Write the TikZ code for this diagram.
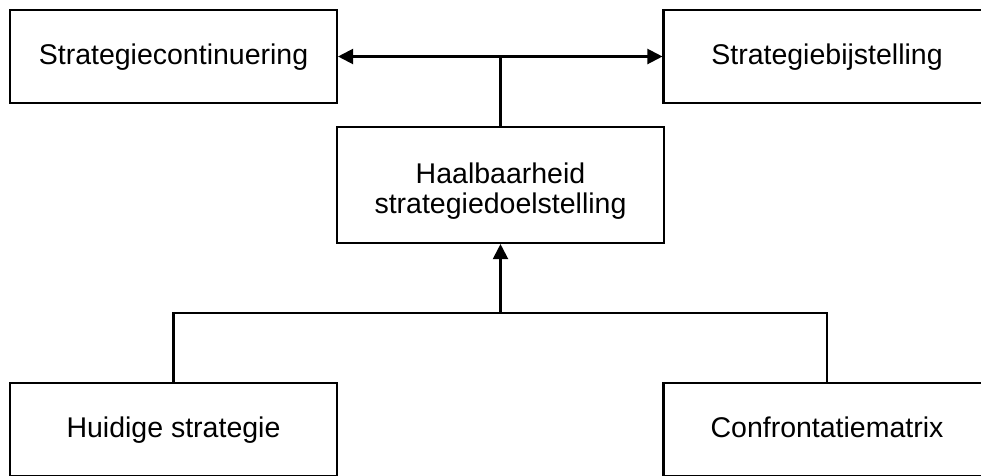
\documentclass[tikz,border=0pt]{standalone}
\usepackage{fontspec}
\setmainfont{Liberation Sans}
\usetikzlibrary{arrows.meta}
\begin{document}
\begin{tikzpicture}[x=1pt,y=-1pt,
  box/.style={draw=black, line width=2.1pt, fill=white, inner sep=0pt,
    minimum width=327pt, font=\fontsize{28.5}{32}\selectfont},
  onebox/.style={box, minimum height=93pt, text height=20.5pt, text depth=4pt},
  link/.style={line width=2.1pt},
  tip/.style={link, -{Triangle[length=15pt,width=15pt]}}]
  \useasboundingbox (0,0) rectangle (981,475);

  % top row: outcomes
  \node[onebox] (cont) at (173.5,56.5) {Strategiecontinuering};
  \node[onebox] (bijst) at (827,56.5) {Strategiebijstelling};

  % central assessment (two lines, last baseline fixed by height/depth)
  \node[box, minimum height=116pt, text height=62pt, text depth=6pt] (haal) at (500.5,185)
    {\begin{tabular}[b]{@{}c@{}}Haalbaarheid\\[-2pt]strategiedoelstelling\end{tabular}};

  % bottom row: inputs
  \node[onebox] (huid) at (173.5,429.5) {Huidige strategie};
  \node[onebox] (conf) at (827,429.5) {Confrontatiematrix};

  % junction points
  \coordinate (top) at (haal.north |- cont.east);
  \coordinate (bot) at (500.5,313);

  % assessment feeds both outcomes
  \draw[link] (haal.north) -- (top);
  \draw[tip] (top) -- (cont.east);
  \draw[tip] (top) -- (bijst.west);

  % inputs merge into the assessment
  \draw[link] (huid.north) |- (bot) -| (conf.north);
  \draw[tip] (bot) -- (haal.south);
\end{tikzpicture}
\end{document}
